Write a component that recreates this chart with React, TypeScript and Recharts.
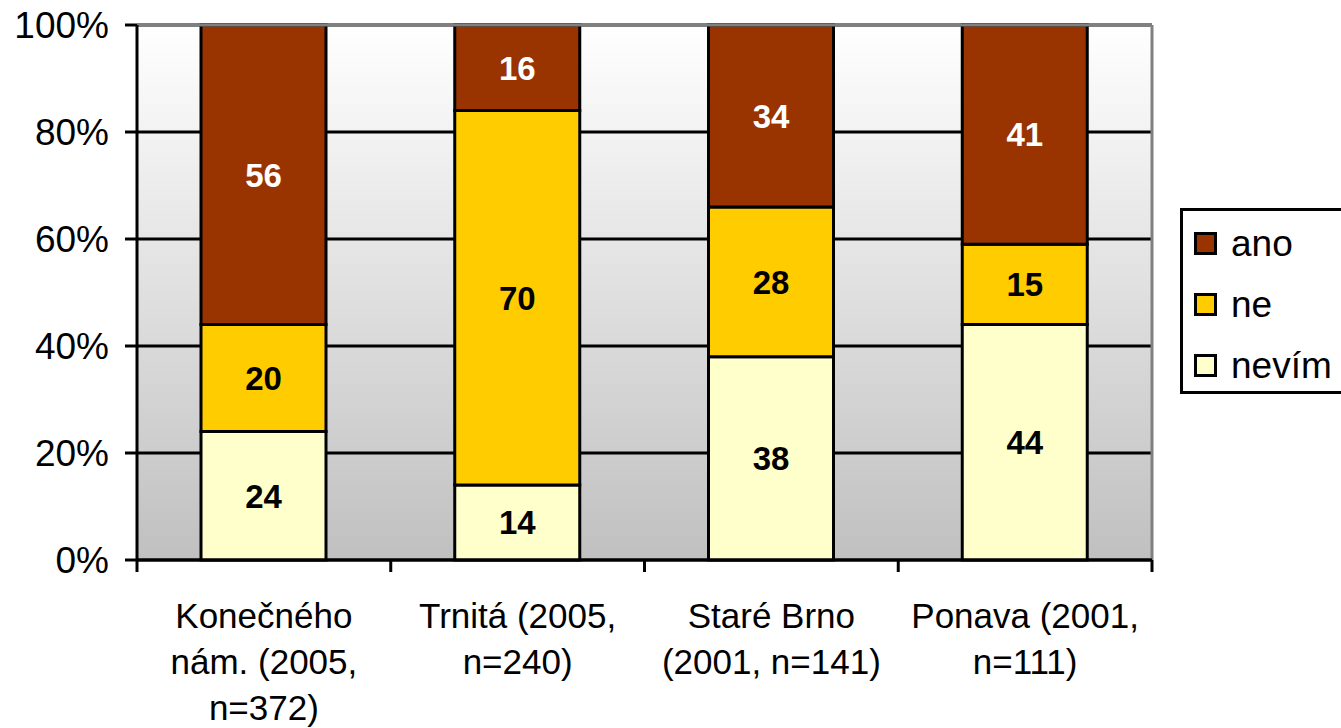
import React from 'react';
import { BarChart, Bar, XAxis, YAxis, CartesianGrid, Legend, LabelList, ReferenceLine } from 'recharts';

const categories: string[][] = [
  ['Konečného', 'nám. (2005,', 'n=372)'],
  ['Trnitá (2005,', 'n=240)'],
  ['Staré Brno', '(2001, n=141)'],
  ['Ponava (2001,', 'n=111)'],
];
const ano = [56, 16, 34, 41];
const ne = [20, 70, 28, 15];
const nevim = [24, 14, 38, 44];
const yTicks = [0, 20, 40, 60, 80, 100];

const COLORS = { ano: '#993300', ne: '#FFCC00', nevim: '#FFFFCC' };
const FONT = '"Liberation Sans", Arial, sans-serif';
const LW = 3;

const data = categories.map((c, i) => ({
  name: c.join('\n'),
  ano: ano[i],
  ne: ne[i],
  nevim: nevim[i],
}));

const CategoryTick = (props: any) => {
  const { x, y, payload, index, visibleTicksCount } = props;
  const half = payload && typeof payload.offset === 'number' && payload.offset > 0 ? payload.offset : 127;
  const lines: string[] = String(payload.value).split('\n');
  const isLast = index === (visibleTicksCount ?? 4) - 1;
  return (
    <g>
      <line x1={x - half} x2={x - half} y1={y} y2={y + 12} stroke="#000" strokeWidth={LW} />
      {isLast && (
        <line x1={x + half} x2={x + half} y1={y} y2={y + 12} stroke="#000" strokeWidth={LW} />
      )}
      <text x={x} y={y} textAnchor="middle" fontFamily={FONT} fontSize={35} fill="#000">
        {lines.map((l, i) => (
          <tspan key={i} x={x} dy={i === 0 ? 68 : 46}>{l}</tspan>
        ))}
      </text>
    </g>
  );
};

const LegendBox = (props: any) => {
  const order = ['ano', 'ne', 'nevím'];
  const payload = [...(props.payload || [])].sort(
    (a: any, b: any) => order.indexOf(a.value) - order.indexOf(b.value)
  );
  return (
    <div
      style={{
        width: 200,
        height: 186,
        border: '3px solid #000',
        boxSizing: 'border-box',
        background: '#fff',
        paddingTop: 2,
        fontFamily: FONT,
        fontSize: 37,
        color: '#000',
      }}
    >
      {payload.map((p: any) => (
        <div key={p.value} style={{ height: 61, display: 'flex', alignItems: 'center' }}>
          <span
            style={{
              display: 'inline-block',
              width: 23,
              height: 23,
              boxSizing: 'border-box',
              border: '3px solid #000',
              background: p.color,
              marginLeft: 11,
              marginRight: 14,
            }}
          />
          <span style={{ lineHeight: '61px' }}>{p.value}</span>
        </div>
      ))}
    </div>
  );
};

export default function App() {
  return (
    <div style={{ position: 'absolute', left: 0, top: 0, width: 1341, height: 728, background: '#fff', overflow: 'hidden' }}>
      <BarChart
        width={1341}
        height={728}
        data={data}
        margin={{ top: 25, right: 189, bottom: 0, left: 0 }}
        barCategoryGap={0}
      >
        <defs>
          <linearGradient id="bgGrad" x1="0" y1="0" x2="0" y2="1">
            <stop offset="0%" stopColor="#ffffff" />
            <stop offset="100%" stopColor="#c0c0c0" />
          </linearGradient>
        </defs>
        <CartesianGrid
          vertical={false}
          stroke="#000"
          strokeWidth={LW}
          strokeOpacity={1}
          fill="url(#bgGrad)"
          fillOpacity={1}
        />
        <XAxis
          dataKey="name"
          height={168}
          axisLine={{ stroke: '#000', strokeWidth: LW }}
          tickLine={false}
          tickSize={0}
          tickMargin={0}
          interval={0}
          tick={<CategoryTick />}
        />
        <YAxis
          domain={[0, 100]}
          ticks={yTicks}
          interval={0}
          width={137}
          tickFormatter={(v: number) => `${v}%`}
          axisLine={{ stroke: '#000', strokeWidth: LW }}
          tickLine={{ stroke: '#000', strokeWidth: LW }}
          tickSize={12}
          tickMargin={16}
          tick={{ fontFamily: FONT, fontSize: 37, fill: '#000' }}
        />
        <ReferenceLine y={100} stroke="#808080" strokeWidth={3} />
        <ReferenceLine x={categories[categories.length - 1].join('\n')} position="end" stroke="#808080" strokeWidth={3} />
        <Bar dataKey="nevim" name="nevím" stackId="a" fill={COLORS.nevim} stroke="#000" strokeWidth={LW} barSize={125} isAnimationActive={false}>
          <LabelList dataKey="nevim" position="center" fill="#000" fontFamily={FONT} fontSize={33} fontWeight="bold" />
        </Bar>
        <Bar dataKey="ne" name="ne" stackId="a" fill={COLORS.ne} stroke="#000" strokeWidth={LW} barSize={125} isAnimationActive={false}>
          <LabelList dataKey="ne" position="center" fill="#000" fontFamily={FONT} fontSize={33} fontWeight="bold" />
        </Bar>
        <Bar dataKey="ano" name="ano" stackId="a" fill={COLORS.ano} stroke="#000" strokeWidth={LW} barSize={125} isAnimationActive={false}>
          <LabelList dataKey="ano" position="center" fill="#fff" fontFamily={FONT} fontSize={33} fontWeight="bold" />
        </Bar>
        <Legend
          layout="vertical"
          align="center"
          verticalAlign="middle"
          content={<LegendBox />}
          wrapperStyle={{ left: 1180, top: 208, width: 161, height: 186, overflow: 'hidden' }}
        />
      </BarChart>
    </div>
  );
}
